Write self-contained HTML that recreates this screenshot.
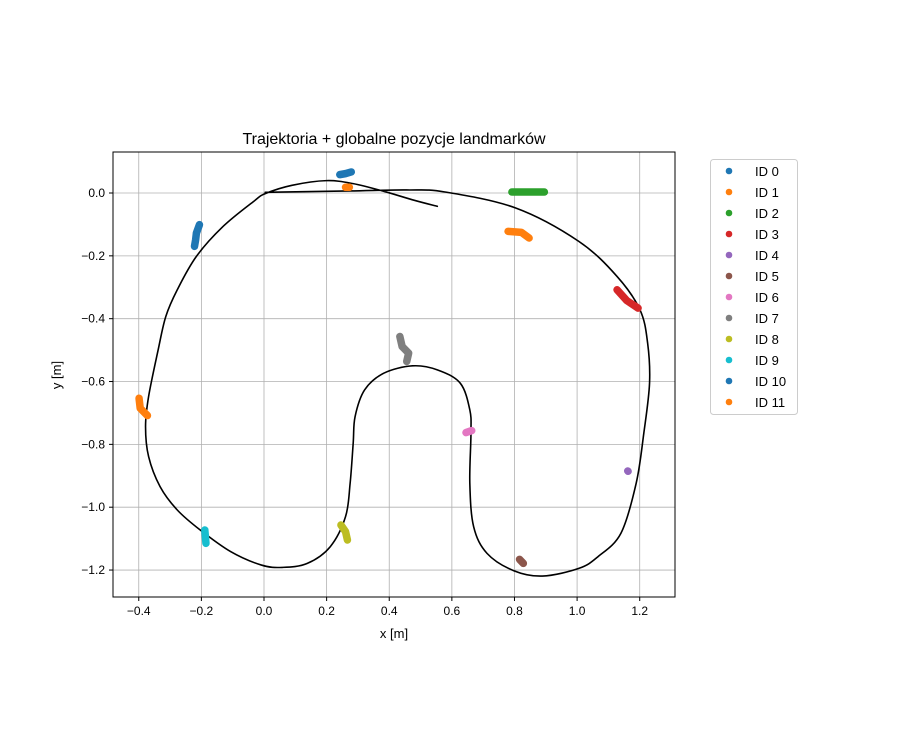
<!DOCTYPE html>
<html><head><meta charset="utf-8"><style>
body{margin:0;background:#fff}
svg{display:block;font-family:"Liberation Sans","DejaVu Sans",sans-serif}
</style></head><body>
<svg id="s" width="900" height="742" xmlns="http://www.w3.org/2000/svg">
<rect width="900" height="742" fill="#fff"/>
<g id="grid" stroke="#b0b0b0" stroke-width="0.8"></g>
<g id="ticks" font-size="12" fill="#000"></g>
<g transform="translate(100.8,149.6) scale(0.3824,0.3337)" fill="none" stroke-linecap="round" stroke-linejoin="round">
<path id="traj" stroke="#000" stroke-width="1.6" vector-effect="non-scaling-stroke"/>
<g stroke-width="7.5">
<polyline vector-effect="non-scaling-stroke" stroke="#1f77b4" points="625,75 640,72 655,67"/>
<polyline vector-effect="non-scaling-stroke" stroke="#1f77b4" points="258,225 250,250 248,270 245,290"/>
<polyline vector-effect="non-scaling-stroke" stroke="#ff7f0e" points="640,113 650,113"/>
<polyline vector-effect="non-scaling-stroke" stroke="#ff7f0e" points="1065,245 1100,248 1120,265"/>
<polyline vector-effect="non-scaling-stroke" stroke="#ff7f0e" points="100,745 103,775 122,797"/>
<polyline vector-effect="non-scaling-stroke" stroke="#2ca02c" points="1075,127 1160,127"/>
<polyline vector-effect="non-scaling-stroke" stroke="#d62728" points="1350,420 1375,452 1405,475"/>
<polyline vector-effect="non-scaling-stroke" stroke="#9467bd" points="1378,963 1379,964"/>
<polyline vector-effect="non-scaling-stroke" stroke="#8c564b" points="1095,1228 1105,1240"/>
<polyline vector-effect="non-scaling-stroke" stroke="#e377c2" points="955,848 970,842"/>
<polyline vector-effect="non-scaling-stroke" stroke="#7f7f7f" points="782,560 788,590 805,610 800,635"/>
<polyline vector-effect="non-scaling-stroke" stroke="#bcbd22" points="628,1125 640,1145 645,1170"/>
<polyline vector-effect="non-scaling-stroke" stroke="#17becf" points="272,1140 275,1180"/>
</g></g>
<rect x="113" y="152" width="562" height="445" fill="none" stroke="#000" stroke-width="1"/>
<text x="394" y="144" font-size="16" text-anchor="middle">Trajektoria + globalne pozycje landmarków</text>
<text x="394" y="638" font-size="13" text-anchor="middle">x [m]</text>
<text transform="translate(61,375) rotate(-90)" font-size="13" text-anchor="middle">y [m]</text>
<rect x="710.5" y="159.5" width="87" height="255" rx="3" fill="#fff" stroke="#ccc"/>
<g id="leg" font-size="13"></g>
</svg>
<script>
var ns="http://www.w3.org/2000/svg";
function el(p,t,a,txt){var e=document.createElementNS(ns,t);for(var k in a)e.setAttribute(k,a[k]);if(txt!=null)e.textContent=txt;document.getElementById(p).appendChild(e);}
var X=function(x){return 264+x*313.1},Y=function(y){return 193-y*314.2};
for(var i=-2;i<=6;i++){var v=i*0.2,px=X(v);el("grid","line",{x1:px,x2:px,y1:152,y2:597});
el("ticks","line",{x1:px,x2:px,y1:597,y2:601,stroke:"#000"});
el("ticks","text",{x:px,y:615,"text-anchor":"middle"},(v<0?"−":"")+Math.abs(v).toFixed(1));}
for(var i=0;i<=6;i++){var v=-i*0.2,py=Y(v);el("grid","line",{x1:113,x2:675,y1:py,y2:py});
el("ticks","line",{x1:109,x2:113,y1:py,y2:py,stroke:"#000"});
el("ticks","text",{x:105,y:py+4,"text-anchor":"end"},(v<-0.001?"−":"")+Math.abs(v).toFixed(1));}
var cols=["#1f77b4","#ff7f0e","#2ca02c","#d62728","#9467bd","#8c564b","#e377c2","#7f7f7f","#bcbd22","#17becf","#1f77b4","#ff7f0e"];
for(var i=0;i<12;i++){var y=171+i*21;el("leg","circle",{cx:729,cy:y,r:3.3,fill:cols[i]});el("leg","text",{x:755,y:y+5},"ID "+i);}
var P=[[430,128],[650,124],[800,121],[900,127],[1085,175],[1250,275],[1350,380],[1410,480],[1430,580],[1435,700],[1420,850],[1400,1000],[1360,1150],[1300,1220],[1250,1255],[1155,1278],[1080,1262],[1010,1210],[975,1130],[965,1000],[968,850],[965,780],[940,700],[880,660],[815,648],[740,670],[690,720],[665,800],[660,880],[652,1000],[640,1100],[600,1190],[540,1240],[475,1252],[420,1245],[340,1205],[260,1140],[200,1080],[155,1010],[125,920],[117,830],[125,740],[150,600],[170,500],[200,420],[250,320],[320,230],[400,155],[430,132],[500,107],[590,93],[660,102],[740,125],[820,152],[880,170]];
var d="M"+P[0][0]+","+P[0][1];
for(var i=0;i<P.length-1;i++){var p0=P[Math.max(i-1,0)],p1=P[i],p2=P[i+1],p3=P[Math.min(i+2,P.length-1)];
if(i==0){d+=" L"+p2[0]+","+p2[1];continue;}
var c1=[p1[0]+(p2[0]-p0[0])/6,p1[1]+(p2[1]-p0[1])/6],c2=[p2[0]-(p3[0]-p1[0])/6,p2[1]-(p3[1]-p1[1])/6];
d+=" C"+c1+" "+c2+" "+p2;}
document.getElementById("traj").setAttribute("d",d);
</script>
</body></html>
